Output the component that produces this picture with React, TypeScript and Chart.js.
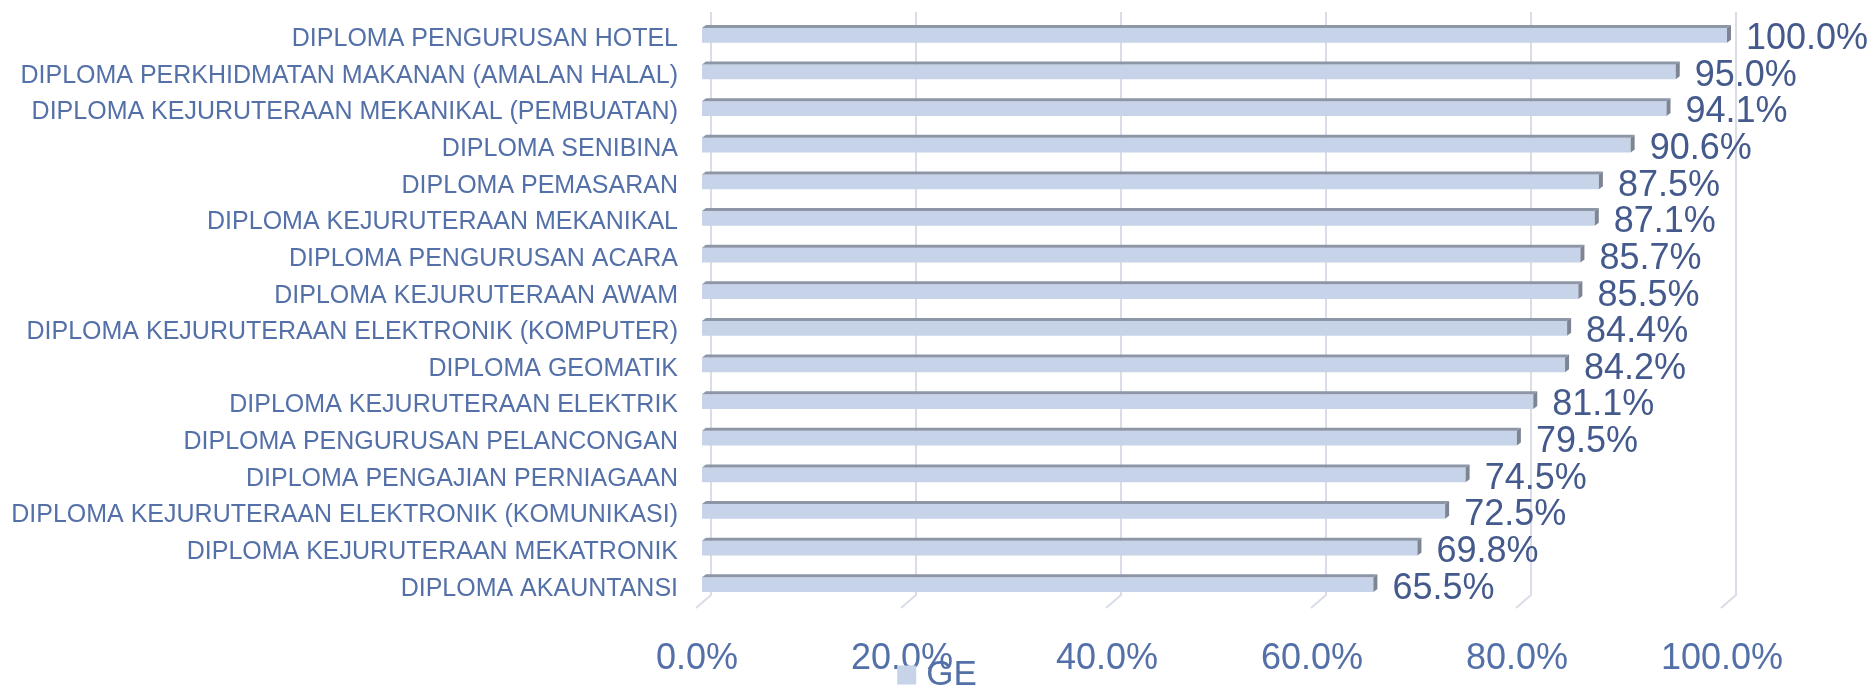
import { useEffect, useRef } from 'react';
import { Chart, registerables } from 'chart.js';

Chart.register(...registerables);

const categories = [
  'DIPLOMA PENGURUSAN HOTEL',
  'DIPLOMA PERKHIDMATAN MAKANAN (AMALAN HALAL)',
  'DIPLOMA KEJURUTERAAN MEKANIKAL (PEMBUATAN)',
  'DIPLOMA SENIBINA',
  'DIPLOMA PEMASARAN',
  'DIPLOMA KEJURUTERAAN MEKANIKAL',
  'DIPLOMA PENGURUSAN ACARA',
  'DIPLOMA KEJURUTERAAN AWAM',
  'DIPLOMA KEJURUTERAAN ELEKTRONIK (KOMPUTER)',
  'DIPLOMA GEOMATIK',
  'DIPLOMA KEJURUTERAAN ELEKTRIK',
  'DIPLOMA PENGURUSAN PELANCONGAN',
  'DIPLOMA PENGAJIAN PERNIAGAAN',
  'DIPLOMA KEJURUTERAAN ELEKTRONIK (KOMUNIKASI)',
  'DIPLOMA KEJURUTERAAN MEKATRONIK',
  'DIPLOMA AKAUNTANSI',
];

const geValues = [100.0, 95.0, 94.1, 90.6, 87.5, 87.1, 85.7, 85.5, 84.4, 84.2, 81.1, 79.5, 74.5, 72.5, 69.8, 65.5];

const xTicks = [0, 20, 40, 60, 80, 100];

const seriesName = 'GE';

const FONT = "'Liberation Sans', Arial, sans-serif";
const TEXT_BLUE = '#5470A8';
const LABEL_BLUE = '#44598C';
const BAR_FRONT = '#C6D3E8';
const BAR_TOP = '#8C96A7';
const BAR_END = '#7D8594';
const GRID = '#D8DDE7';
const DX = 4;
const DY = 3;

export default function App() {
  const ref = useRef<HTMLCanvasElement>(null);

  useEffect(() => {
    document.body.style.margin = '0';
    const canvas = ref.current!;

    const threeD = {
      id: 'threeD',
      beforeDatasetsDraw(chart: any) {
        const { ctx, chartArea } = chart;
        const x = chart.scales.x;
        ctx.save();
        ctx.strokeStyle = GRID;
        ctx.lineWidth = 2;
        for (const v of xTicks) {
          const px = x.getPixelForValue(v);
          ctx.beginPath();
          ctx.moveTo(px + 9, chartArea.top - 5);
          ctx.lineTo(px + 9, chartArea.bottom - 8);
          ctx.lineTo(px - 6, chartArea.bottom + 5);
          ctx.stroke();
        }
        ctx.restore();
      },
      afterDatasetsDraw(chart: any) {
        const { ctx } = chart;
        const meta = chart.getDatasetMeta(0);
        ctx.save();
        meta.data.forEach((bar: any, i: number) => {
          const { x, y, base, height } = bar.getProps(['x', 'y', 'base', 'height'], true);
          const top = y - height / 2;
          const bottom = y + height / 2;
          ctx.fillStyle = BAR_TOP;
          ctx.beginPath();
          ctx.moveTo(base, top);
          ctx.lineTo(base + DX, top - DY);
          ctx.lineTo(x + DX, top - DY);
          ctx.lineTo(x, top);
          ctx.closePath();
          ctx.fill();
          ctx.fillStyle = BAR_END;
          ctx.beginPath();
          ctx.moveTo(x, top);
          ctx.lineTo(x + DX, top - DY);
          ctx.lineTo(x + DX, bottom - DY);
          ctx.lineTo(x, bottom);
          ctx.closePath();
          ctx.fill();
          ctx.fillStyle = LABEL_BLUE;
          ctx.font = `36px ${FONT}`;
          ctx.textAlign = 'left';
          ctx.textBaseline = 'middle';
          ctx.fillText(geValues[i].toFixed(1) + '%', x + 19, y + 4);
        });
        ctx.restore();
      },
      afterDraw(chart: any) {
        const { ctx } = chart;
        const ds = chart.data.datasets[0];
        ctx.save();
        ctx.font = `35px ${FONT}`;
        const tw = ctx.measureText(ds.label).width;
        const total = 19 + 10 + tw;
        const left = chart.width / 2 - total / 2;
        const cy = 675;
        ctx.fillStyle = ds.backgroundColor;
        ctx.fillRect(left, cy - 9.5, 19, 19);
        ctx.fillStyle = TEXT_BLUE;
        ctx.textAlign = 'left';
        ctx.textBaseline = 'middle';
        ctx.fillText(ds.label, left + 29, cy);
        ctx.restore();
      },
    };

    const chart = new Chart(canvas, {
      type: 'bar',
      data: {
        labels: categories,
        datasets: [
          {
            label: seriesName,
            data: geValues,
            backgroundColor: BAR_FRONT,
            borderWidth: 0,
            barPercentage: 0.4,
            categoryPercentage: 1,
          },
        ],
      },
      options: {
        indexAxis: 'y',
        responsive: false,
        animation: false,
        devicePixelRatio: 1,
        layout: { padding: { top: 17, right: 147, left: 0, bottom: 0 } },
        plugins: {
          legend: { display: false },
          tooltip: { enabled: false },
        },
        scales: {
          x: {
            type: 'linear',
            min: 0,
            max: 100,
            grid: { display: false },
            border: { display: false },
            ticks: {
              stepSize: 20,
              callback: (v: any) => Number(v).toFixed(1) + '%',
              font: { family: FONT, size: 36 },
              color: TEXT_BLUE,
              padding: 26,
              labelOffset: -5,
              maxRotation: 0,
            },
            afterFit: (s: any) => {
              s.height = 87;
            },
          },
          y: {
            grid: { display: false },
            border: { display: false },
            ticks: {
              font: { family: FONT, size: 25 },
              color: TEXT_BLUE,
              padding: 16,
              labelOffset: 4,
              autoSkip: false,
            },
            afterFit: (s: any) => {
              s.width = 702;
              s.paddingTop = 0;
              s.paddingBottom = 0;
            },
          },
        },
      },
      plugins: [threeD],
    } as any);

    return () => chart.destroy();
  }, []);

  return <canvas ref={ref} width={1874} height={690} style={{ display: 'block' }} />;
}
